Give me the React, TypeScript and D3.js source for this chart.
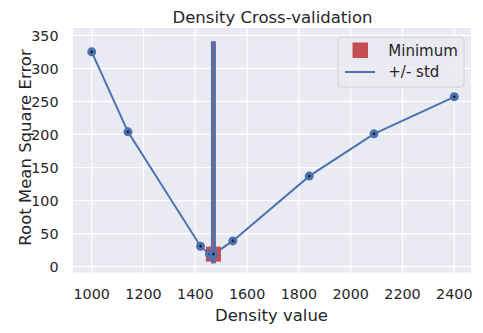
import React from "react";
import * as d3 from "d3";

const densities = [1000, 1140, 1420, 1455, 1470, 1545, 1840, 2090, 2400];
const rmse = [325, 204, 31, 19, 19, 39, 137, 201, 257];
const minDensity = 1470;
const minValue = 19;
const stdLow = 5;
const stdHigh = 341;
const xTicks = [1000, 1200, 1400, 1600, 1800, 2000, 2200, 2400];
const yTicks = [0, 50, 100, 150, 200, 250, 300, 350];

const W = 483, H = 333;
const L = 73, R = 471, T = 28, B = 272.5;
const BLUE = "#4C72B0", RED = "#C44E52";
const FONT = "DejaVu Sans, sans-serif";
const TXT = "#262626";

export default function App() {
  const x = d3.scaleLinear().domain([1000, 2400]).range([91.7, 454.3]);
  const y = d3.scaleLinear().domain([0, 350]).range([266.7, 35.3]);
  const line = d3.line<number>().x((_, i) => x(densities[i])).y((d) => y(d));
  return (
    <svg width={W} height={H} style={{ position: "absolute", left: 0, top: 0 }} fontFamily={FONT}>
      <rect x={0} y={0} width={W} height={H} fill="white" />
      <rect x={L} y={T} width={R - L} height={B - T} fill="#EAEAF2" />
      {xTicks.map((t) => (
        <line key={"gx" + t} x1={x(t)} x2={x(t)} y1={T} y2={B} stroke="white" strokeWidth={1.2} />
      ))}
      {yTicks.map((t) => (
        <line key={"gy" + t} x1={L} x2={R} y1={y(t)} y2={y(t)} stroke="white" strokeWidth={1.2} />
      ))}
      <path d={line(rmse) || ""} fill="none" stroke={BLUE} strokeWidth={2} />
      <rect x={x(minDensity) - 7.5} y={y(minValue) - 7.5} width={15} height={15} fill={RED} />
      <rect x={x(minDensity) - 2.5} y={y(stdHigh)} width={5} height={y(stdLow) - y(stdHigh)} fill={BLUE} />
      <line x1={x(minDensity)} x2={x(minDensity)} y1={y(stdHigh)} y2={y(stdLow)} stroke={RED} strokeWidth={0.8} />
      {rmse.map((v, i) => (
        <g key={"p" + i}>
          <circle cx={x(densities[i])} cy={y(v)} r={4.5} fill={BLUE} />
          <path
            d={`M${x(densities[i]) - 1.5},${y(v)}h3M${x(densities[i])},${y(v) - 1.5}v3`}
            stroke="black"
            strokeWidth={0.8}
          />
        </g>
      ))}
      {xTicks.map((t) => (
        <text key={"tx" + t} x={x(t)} y={299.3} textAnchor="middle" fontSize={14.3} fill={TXT}>
          {t}
        </text>
      ))}
      {yTicks.map((t) => (
        <text key={"ty" + t} x={58.5} y={y(t) + 5.2} textAnchor="end" fontSize={14.3} fill={TXT}>
          {t}
        </text>
      ))}
      <text x={272.5} y={22.7} textAnchor="middle" fontSize={16.5} fill={TXT}>
        Density Cross-validation
      </text>
      <text x={271.5} y={320.7} textAnchor="middle" fontSize={16.5} fill={TXT}>
        Density value
      </text>
      <text
        transform={`translate(30.5,147.5) rotate(-90)`}
        textAnchor="middle"
        fontSize={16.5}
        fill={TXT}
      >
        Root Mean Square Error
      </text>
      <rect x={338} y={37} width={126} height={50} rx={3} fill="#EAEAF2" fillOpacity={0.8} stroke="#CCCCCC" strokeWidth={0.8} />
      <rect x={352.5} y={42.5} width={15.5} height={15.5} fill={RED} />
      <text x={388.3} y={55.5} fontSize={15} fill={TXT}>Minimum</text>
      <line x1={345} x2={375} y1={72} y2={72} stroke={BLUE} strokeWidth={2} />
      <text x={388.3} y={77} fontSize={15} fill={TXT}>+/- std</text>
    </svg>
  );
}
